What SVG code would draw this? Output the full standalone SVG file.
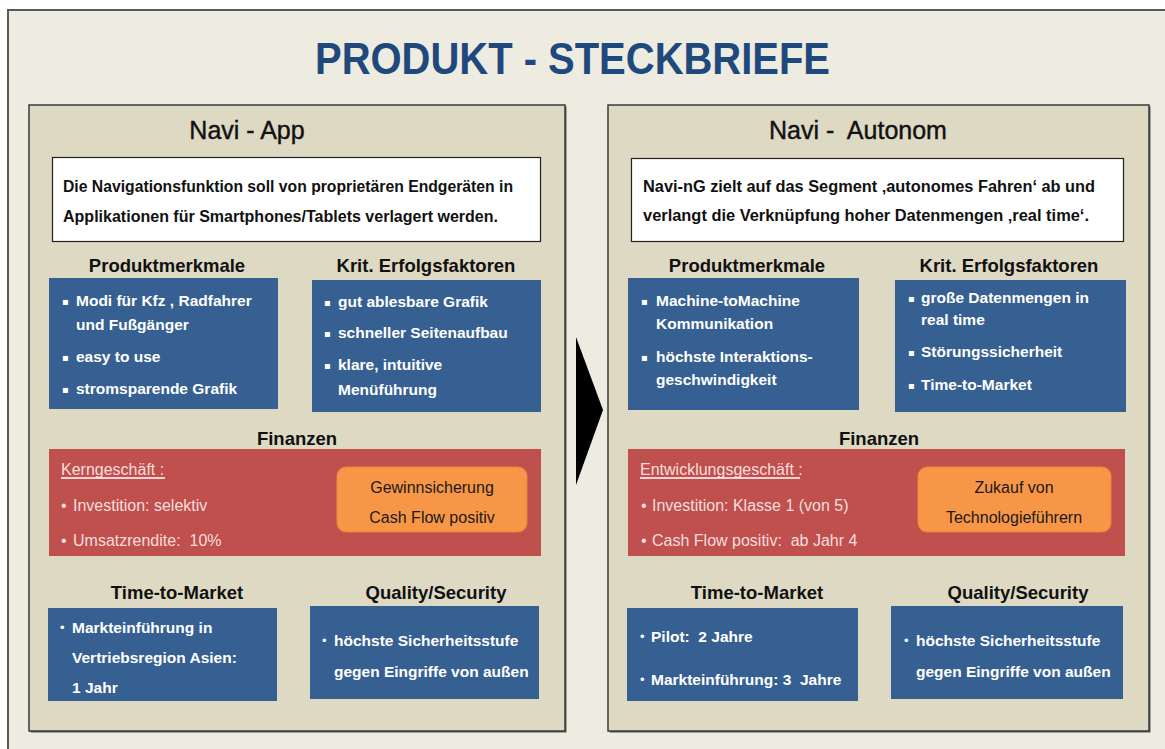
<svg xmlns="http://www.w3.org/2000/svg" width="1165" height="749" viewBox="0 0 1165 749">
<style>
.panel{fill:#DDD9C3;stroke:#3a3a3a;stroke-width:1.5}
.shadow{fill:#555}
.wbox{fill:#FFFFFF;stroke:#222;stroke-width:1.2}
.blue{fill:#376092}
.red{fill:#C0504D}
.orange{fill:#F79646;stroke:#E8873A;stroke-width:1}
text{font-family:"Liberation Sans",Arial,sans-serif}
.title{font-weight:bold;font-size:44px;fill:#1F497D}
.ptitle{font-size:25px;fill:#111;text-anchor:middle;stroke:#111;stroke-width:0.4}
.wt{font-weight:bold;font-size:16px;fill:#111}
.h{font-weight:bold;font-size:18.5px;fill:#111;text-anchor:middle}
.bt{font-weight:bold;font-size:15.5px;fill:#FFFFFF}
.sq{font-family:"DejaVu Sans",sans-serif;font-size:10px;fill:#FFFFFF}
.dot{font-size:13px;fill:#FFFFFF}
.rt{font-size:16px;fill:#F4DEDD}
.ot{font-size:16px;fill:#1a1a1a;text-anchor:middle}
</style>
<rect x="0" y="0" width="1165" height="749" fill="#FFFFFF"/>
<g id="frame">
<rect x="8" y="10" width="1157" height="739" fill="#EEECE1"/>
<path d="M8,749 V10 H1165" fill="none" stroke="#595959" stroke-width="2"/>
</g>
<text id="title" class="title" x="315" y="74" textLength="515" lengthAdjust="spacingAndGlyphs">PRODUKT - STECKBRIEFE</text>

<g id="connectors">
<polygon points="576,337 603,410 576,485" fill="#000000"/>
</g>

<g id="navi-app">
<rect class="shadow" x="30.5" y="106.5" width="536" height="626"/>
<rect class="panel" x="29" y="105" width="536" height="626"/>
<text class="ptitle" x="247" y="139">Navi - App</text>
<rect class="wbox" x="52.5" y="157.5" width="488" height="84"/>
<text class="wt" x="63" y="192" textLength="450" lengthAdjust="spacingAndGlyphs">Die Navigationsfunktion soll von proprietären Endgeräten in</text>
<text class="wt" x="63" y="222" textLength="435" lengthAdjust="spacingAndGlyphs">Applikationen für Smartphones/Tablets verlagert werden.</text>

<g id="app-produktmerkmale">
<text class="h" x="167" y="272">Produktmerkmale</text>
<rect class="blue" x="49" y="278" width="229" height="131"/>
<text class="sq" x="62" y="305">▪</text><text class="bt" x="76" y="306">Modi für Kfz , Radfahrer</text>
<text class="bt" x="76" y="330">und Fußgänger</text>
<text class="sq" x="62" y="361">▪</text><text class="bt" x="76" y="362">easy to use</text>
<text class="sq" x="62" y="393">▪</text><text class="bt" x="76" y="394">stromsparende Grafik</text>
</g>

<g id="app-erfolgsfaktoren">
<text class="h" x="426" y="272">Krit. Erfolgsfaktoren</text>
<rect class="blue" x="312" y="280" width="229" height="132"/>
<text class="sq" x="324" y="306">▪</text><text class="bt" x="338" y="307">gut ablesbare Grafik</text>
<text class="sq" x="324" y="337">▪</text><text class="bt" x="338" y="338">schneller Seitenaufbau</text>
<text class="sq" x="324" y="369">▪</text><text class="bt" x="338" y="370">klare, intuitive</text>
<text class="bt" x="338" y="395">Menüführung</text>
</g>

<g id="app-finanzen">
<text class="h" x="297" y="445">Finanzen</text>
<rect class="red" x="49" y="449" width="492" height="107"/>
<text class="rt" x="61" y="475">Kerngeschäft :</text>
<line x1="61" y1="478" x2="165" y2="478" stroke="#FFFFFF" stroke-width="1.3"/>
<text class="rt" x="61" y="511">•</text><text class="rt" x="73" y="511">Investition: selektiv</text>
<text class="rt" x="61" y="546">•</text><text class="rt" x="73" y="546">Umsatzrendite:&#160; 10%</text>
<rect class="orange" x="337" y="467" width="190" height="65" rx="9"/>
<text class="ot" x="432" y="493">Gewinnsicherung</text>
<text class="ot" x="432" y="523">Cash Flow positiv</text>
</g>

<g id="app-ttm">
<text class="h" x="177" y="599">Time-to-Market</text>
<rect class="blue" x="48" y="608" width="229" height="93"/>
<text class="dot" x="60" y="632">•</text><text class="bt" x="72" y="633">Markteinführung in</text>
<text class="bt" x="72" y="663">Vertriebsregion Asien:</text>
<text class="bt" x="72" y="693">1 Jahr</text>
</g>

<g id="app-quality">
<text class="h" x="436" y="599">Quality/Security</text>
<rect class="blue" x="310" y="606" width="229" height="93"/>
<text class="dot" x="322" y="645">•</text><text class="bt" x="334" y="646">höchste Sicherheitsstufe</text>
<text class="bt" x="334" y="677">gegen Eingriffe von außen</text>
</g>
</g>

<g id="navi-autonom">
<rect class="shadow" x="609.5" y="106.5" width="541" height="626"/>
<rect class="panel" x="608" y="105" width="541" height="626"/>
<text class="ptitle" x="858" y="139">Navi -&#160; Autonom</text>
<rect class="wbox" x="631.5" y="158.5" width="492" height="83"/>
<text class="wt" x="643" y="192" textLength="452" lengthAdjust="spacingAndGlyphs">Navi-nG zielt auf das Segment ‚autonomes Fahren‘ ab und</text>
<text class="wt" x="643" y="221" textLength="446" lengthAdjust="spacingAndGlyphs">verlangt die Verknüpfung hoher Datenmengen ‚real time‘.</text>

<g id="auto-produktmerkmale">
<text class="h" x="747" y="272">Produktmerkmale</text>
<rect class="blue" x="628" y="278" width="231" height="132"/>
<text class="sq" x="641" y="305">▪</text><text class="bt" x="656" y="306">Machine-toMachine</text>
<text class="bt" x="656" y="329">Kommunikation</text>
<text class="sq" x="641" y="361">▪</text><text class="bt" x="656" y="362">höchste Interaktions-</text>
<text class="bt" x="656" y="385">geschwindigkeit</text>
</g>

<g id="auto-erfolgsfaktoren">
<text class="h" x="1009" y="272">Krit. Erfolgsfaktoren</text>
<rect class="blue" x="895" y="280" width="231" height="132"/>
<text class="sq" x="908" y="302">▪</text><text class="bt" x="921" y="303">große Datenmengen in</text>
<text class="bt" x="921" y="325">real time</text>
<text class="sq" x="908" y="356">▪</text><text class="bt" x="921" y="357">Störungssicherheit</text>
<text class="sq" x="908" y="389">▪</text><text class="bt" x="921" y="390">Time-to-Market</text>
</g>

<g id="auto-finanzen">
<text class="h" x="879" y="445">Finanzen</text>
<rect class="red" x="628" y="449" width="497" height="107"/>
<text class="rt" x="640" y="475">Entwicklungsgeschäft :</text>
<line x1="640" y1="478" x2="800" y2="478" stroke="#FFFFFF" stroke-width="1.3"/>
<text class="rt" x="641" y="511">•</text><text class="rt" x="652" y="511">Investition: Klasse 1 (von 5)</text>
<text class="rt" x="641" y="546">•</text><text class="rt" x="652" y="546">Cash Flow positiv:&#160; ab Jahr 4</text>
<rect class="orange" x="918" y="467" width="193" height="65" rx="9"/>
<text class="ot" x="1014" y="493">Zukauf von</text>
<text class="ot" x="1014" y="523">Technologieführern</text>
</g>

<g id="auto-ttm">
<text class="h" x="757" y="599">Time-to-Market</text>
<rect class="blue" x="627" y="608" width="231" height="93"/>
<text class="dot" x="640" y="641">•</text><text class="bt" x="651" y="642">Pilot:&#160; 2 Jahre</text>
<text class="dot" x="640" y="684">•</text><text class="bt" x="651" y="685">Markteinführung: 3&#160; Jahre</text>
</g>

<g id="auto-quality">
<text class="h" x="1018" y="599">Quality/Security</text>
<rect class="blue" x="891" y="606" width="232" height="93"/>
<text class="dot" x="904" y="645">•</text><text class="bt" x="916" y="646">höchste Sicherheitsstufe</text>
<text class="bt" x="916" y="677">gegen Eingriffe von außen</text>
</g>
</g>
</svg>
